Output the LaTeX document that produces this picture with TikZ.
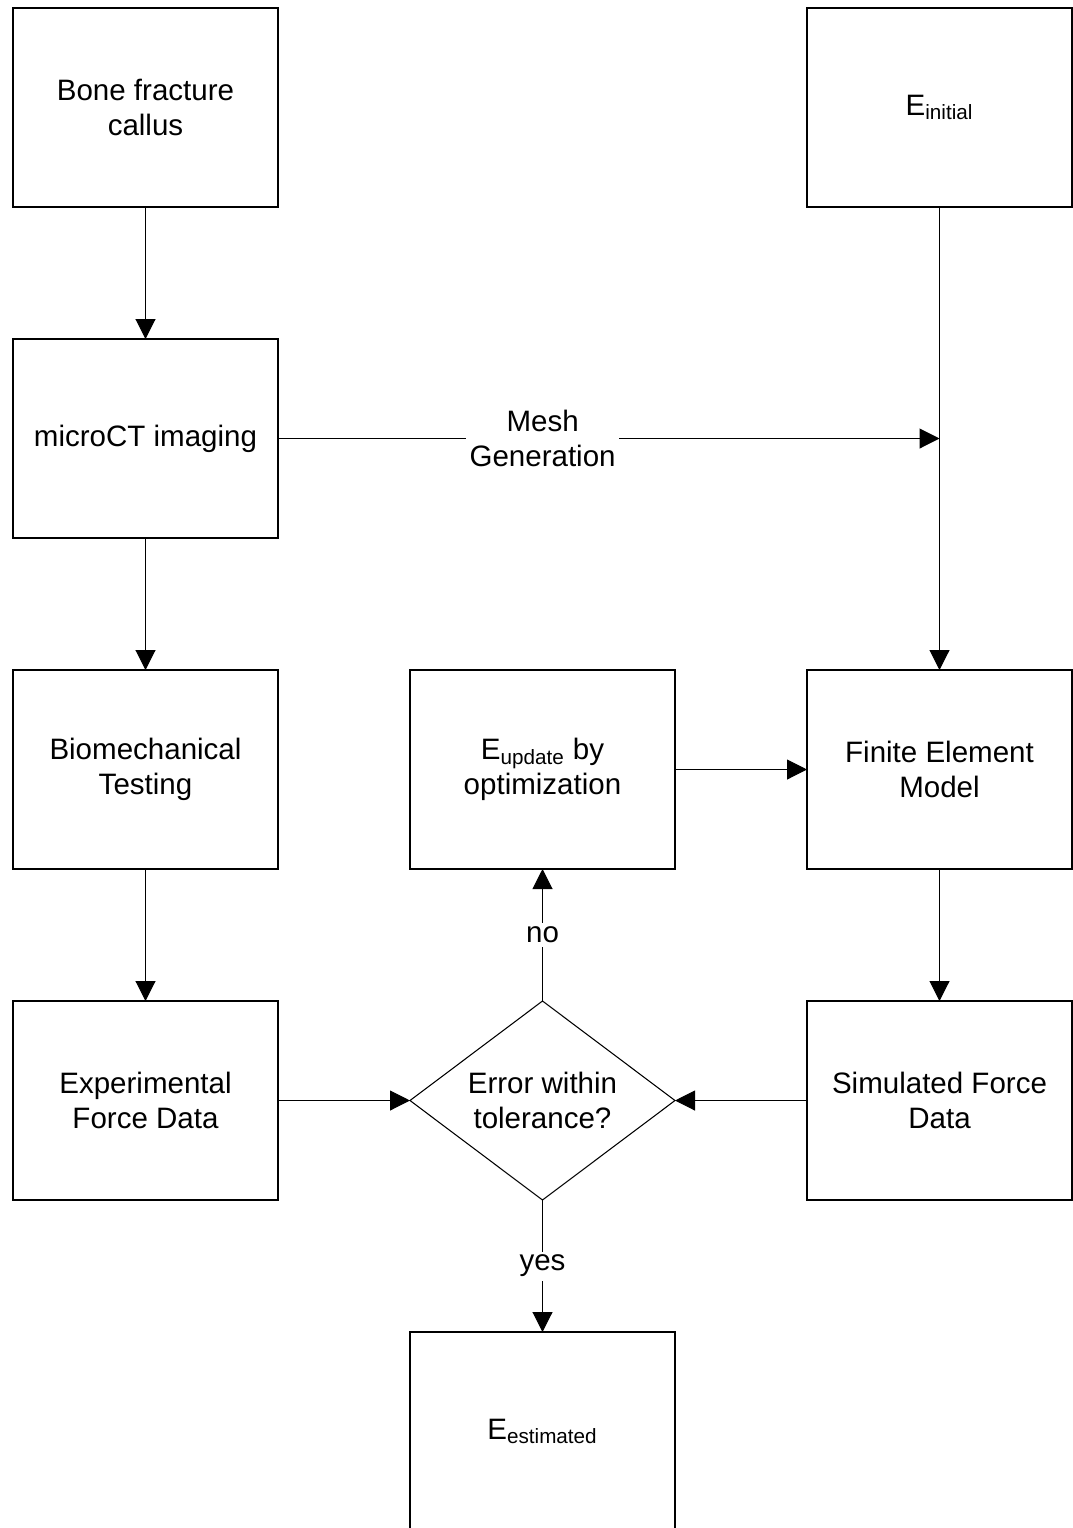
\documentclass[tikz,border=0pt]{standalone}
\usepackage{fontspec}
\setmainfont{Liberation Sans}
\usetikzlibrary{shapes.geometric, arrows.meta, positioning}
\tikzset{
    box/.style={rectangle, draw, fill=white, minimum width=5.3cm, minimum height=3.98cm, align=center, font=\fontsize{16.8}{19.8}\selectfont, line width=0.6pt, inner sep=0pt, outer sep=0pt},
    decision/.style={diamond, draw, fill=white, aspect=1.33, minimum width=5.3cm, minimum height=3.98cm, align=center, font=\fontsize{16.8}{19.8}\selectfont, line width=0.6pt, inner sep=0pt, outer sep=0pt},
    arr/.style={-{Triangle[length=0.4cm, width=0.4cm]}, line width=0.6pt},
    arrlab/.style={font=\fontsize{16.8}{19.8}\selectfont, fill=white, inner sep=2pt, align=center},
}

\begin{document}
\begin{tikzpicture}[node distance=2.64cm and 2.64cm]

\useasboundingbox (0,0) rectangle (21.44,-30.56);

% ── Left column ──
\node[box] (bone) at (2.91,-2.15) {Bone fracture\\callus};
\node[box, below=of bone] (micro) {microCT imaging};
\node[box, below=of micro] (biomech) {Biomechanical\\Testing};
\node[box, below=of biomech] (expdata) {Experimental\\Force Data};

% ── Middle column ──
\node[box, right=of biomech] (update) {E\textsubscript{update} by\\optimization};
\node[decision, right=of expdata] (err) {Error within\\tolerance?};
\node[box, below=of err] (estim) {E\textsubscript{estimated}};

% ── Right column ──
\node[box, right=of update] (fem) {Finite Element\\Model};
\node[box, below=of fem] (simdata) {Simulated Force\\Data};
\node[box] (einit) at (fem |- bone) {E\textsubscript{initial}};

\coordinate (meshin) at (einit |- micro);

% ── Connections ──
\draw[arr] (bone) -- (micro);
\draw[arr] (micro) -- (biomech);
\draw[arr] (biomech) -- (expdata);

\draw[arr] (micro) -- (meshin) node[arrlab, pos=0.4] {Mesh\\Generation};
\draw[arr] (einit) -- (fem);

\draw[arr] (update) -- (fem);
\draw[arr] (fem) -- (simdata);

\draw[arr] (expdata) -- (err);
\draw[arr] (simdata) -- (err);

\draw[arr] (err) -- (update) node[arrlab, midway] {no};
\draw[arr] (err) -- (estim) node[arrlab, midway] {yes};

\end{tikzpicture}
\end{document}
